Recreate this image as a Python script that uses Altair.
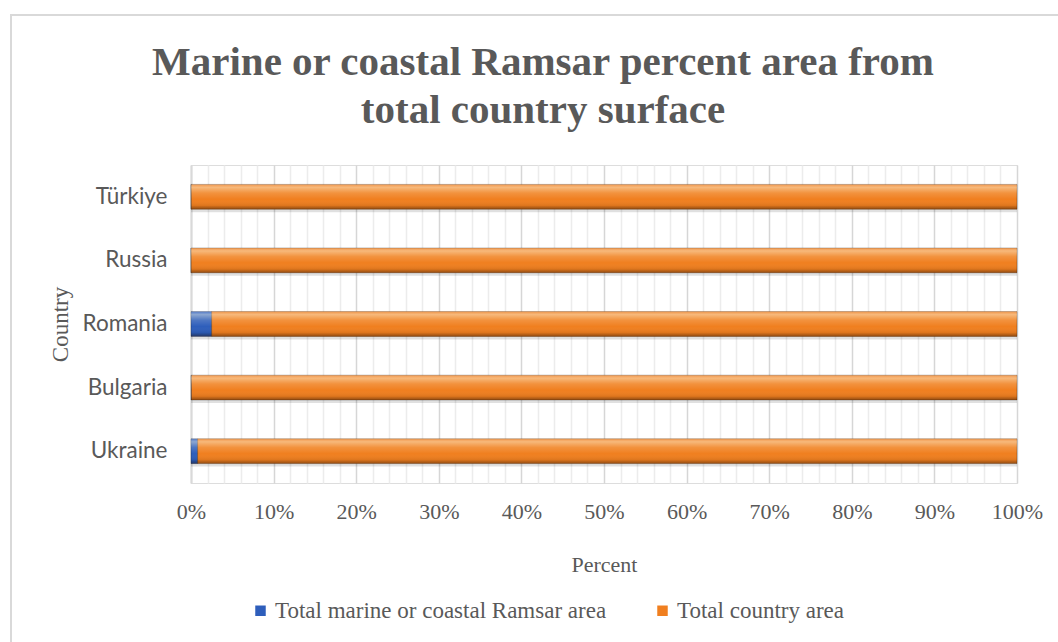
import altair as alt
import pandas as pd

# Share of each country's surface (percent), bottom-to-top category order
countries = ["Ukraine", "Bulgaria", "Romania", "Russia", "Türkiye"]
ramsar_pct = [0.8, 0.05, 2.5, 0.02, 0.03]
country_pct = [99.2, 99.95, 97.5, 99.98, 99.97]

series_names = ["Total marine or coastal Ramsar area", "Total country area"]
series_colors = ["#2E5EBB", "#F07F1F"]

# grid every 2 %, labels every 10 %
x_tick_values = [0.0, 0.02, 0.04, 0.06, 0.08, 0.1, 0.12, 0.14, 0.16, 0.18,
                 0.2, 0.22, 0.24, 0.26, 0.28, 0.3, 0.32, 0.34, 0.36, 0.38,
                 0.4, 0.42, 0.44, 0.46, 0.48, 0.5, 0.52, 0.54, 0.56, 0.58,
                 0.6, 0.62, 0.64, 0.66, 0.68, 0.7, 0.72, 0.74, 0.76, 0.78,
                 0.8, 0.82, 0.84, 0.86, 0.88, 0.9, 0.92, 0.94, 0.96, 0.98, 1.0]

rows = []
for i, c in enumerate(countries):
    rows.append({"Country": c, "Series": series_names[0], "Value": ramsar_pct[i], "order": 0})
    rows.append({"Country": c, "Series": series_names[1], "Value": country_pct[i], "order": 1})
df = pd.DataFrame(rows)

SERIF = "Liberation Serif"
SANS = "Lato"
GREY = "#595959"

y_order = list(reversed(countries))

x_enc = alt.X(
    "Value:Q",
    stack="normalize",
    scale=alt.Scale(domain=[0, 1], nice=False),
    axis=alt.Axis(
        values=x_tick_values,
        labelExpr="round(datum.value*100) % 10 === 0 ? format(datum.value, '.0%') : ''",
        title="Percent",
        titleFont=SERIF, titleFontSize=22, titleFontWeight="normal", titleColor=GREY,
        titlePadding=32,
        labelFont=SERIF, labelFontSize=22, labelColor=GREY, labelPadding=18,
        labelOverlap=False, labelFlush=False, labelBound=False,
        grid=True,
        gridColor={"condition": {"test": "round(datum.value*100) % 10 === 0", "value": "#d6d6d6"},
                   "value": "#ececec"},
        gridWidth=1.5,
        ticks=False, domain=False,
    ),
)
y_enc = alt.Y(
    "Country:N",
    sort=y_order,
    scale=alt.Scale(paddingInner=0.61, paddingOuter=0.305),
    axis=alt.Axis(
        title="Country",
        titleFont=SERIF, titleFontSize=23, titleFontWeight="normal", titleColor=GREY,
        titlePadding=10,
        labelFont=SANS, labelFontSize=22.5, labelColor=GREY, labelPadding=24,
        ticks=False, domain=True, domainColor="#d9d9d9", domainWidth=2,
        grid=False,
    ),
)
order_enc = alt.Order("order:Q")

base = alt.Chart(df)

# soft drop shadow under each bar
shadow = base.mark_bar(color="#000000", opacity=0.12, yOffset=3).encode(
    x=x_enc, y=y_enc, detail="Series:N", order=order_enc
)

bars = base.mark_bar(stroke="#00000040", strokeWidth=1).encode(
    x=x_enc,
    y=y_enc,
    color=alt.Color(
        "Series:N",
        scale=alt.Scale(domain=series_names, range=series_colors),
        legend=alt.Legend(
            title=None, orient="none", direction="horizontal",
            legendX=58, legendY=434,
            symbolType="square", symbolSize=110, symbolStrokeWidth=0,
            labelFont=SERIF, labelFontSize=23, labelColor=GREY, labelLimit=500,
            labelOffset=3, columnPadding=44, padding=0,
        ),
    ),
    order=order_enc,
)

# bevel-like shading: light top edge, darker bottom edge
gloss = base.mark_bar(
    color=alt.Gradient(
        gradient="linear", x1=0, x2=0, y1=0, y2=1,
        stops=[
            alt.GradientStop(offset=0, color="rgba(255,255,255,0.2)"),
            alt.GradientStop(offset=0.12, color="rgba(255,255,235,0.45)"),
            alt.GradientStop(offset=0.35, color="rgba(255,255,235,0.15)"),
            alt.GradientStop(offset=0.6, color="rgba(255,255,255,0.0)"),
            alt.GradientStop(offset=0.85, color="rgba(0,0,0,0.08)"),
            alt.GradientStop(offset=1, color="rgba(40,15,0,0.45)"),
        ],
    )
).encode(x=x_enc, y=y_enc, detail="Series:N", order=order_enc)

# outer chart-area frame
frame = alt.Chart(pd.DataFrame({"f": [0]})).mark_rect(
    filled=False, stroke="#d9d9d9", strokeWidth=2
).encode(
    x=alt.value(-180), x2=alt.value(900), y=alt.value(-150), y2=alt.value(520)
)

chart = alt.layer(frame, shadow, bars, gloss).properties(
    width=826,
    height=318,
    title=alt.TitleParams(
        text=["Marine or coastal Ramsar percent area from", "total country surface"],
        font=SERIF, fontSize=41, fontWeight="bold", color=GREY,
        anchor="middle", frame="group", dx=-61, lineHeight=48, offset=-118,
    ),
    padding={"left": 191, "top": 165, "right": 41, "bottom": 159},
    autosize=alt.AutoSizeParams(type="none"),
).configure_view(stroke=None).configure(background="white")

chart.save("out.html", embed_options={"renderer": "svg", "actions": False})
